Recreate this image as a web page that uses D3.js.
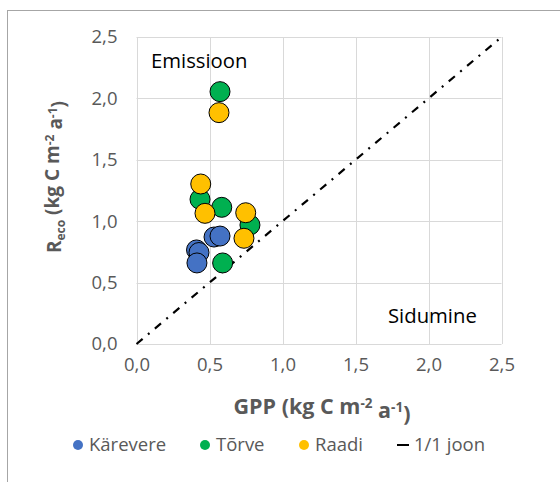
<!DOCTYPE html>
<html>
<head>
<meta charset="utf-8">
<script src="https://cdn.jsdelivr.net/npm/d3@7/dist/d3.min.js"></script>
<style>
  html, body { margin: 0; padding: 0; background: #fff; }
  svg { display: block; font-family: "Open Sans", "Noto Sans", sans-serif; }
</style>
</head>
<body>
<svg id="chart" width="560" height="482"></svg>
<script>
// GPP vs Reco for three sites, kg C m-2 a-1
const seriesNames = ["Kärevere", "Tõrve", "Raadi"];
const kareverGPP  = [0.411, 0.428, 0.414, 0.531, 0.572];
const kareverReco = [0.766, 0.745, 0.660, 0.871, 0.879];
const torveGPP    = [0.572, 0.435, 0.584, 0.777, 0.590];
const torveReco   = [2.055, 1.178, 1.113, 0.969, 0.660];
const raadiGPP    = [0.565, 0.440, 0.469, 0.748, 0.736];
const raadiReco   = [1.884, 1.303, 1.064, 1.069, 0.861];
const seriesColors = ["#4472C4", "#00B050", "#FFC000"];
const tickValues = [0, 0.5, 1.0, 1.5, 2.0, 2.5];
const oneToOne = [[0, 0], [2.5, 2.5]];

const series = [
  { name: seriesNames[0], gpp: kareverGPP, reco: kareverReco, color: seriesColors[0] },
  { name: seriesNames[1], gpp: torveGPP,   reco: torveReco,   color: seriesColors[1] },
  { name: seriesNames[2], gpp: raadiGPP,   reco: raadiReco,   color: seriesColors[2] }
];

const svg = d3.select("#chart");
const fmt = d => d3.format(".1f")(d).replace(".", ",");

// outer chart frame
svg.append("rect")
  .attr("x", 7.5).attr("y", 10.5)
  .attr("width", 700).attr("height", 700)
  .attr("fill", "#fff").attr("stroke", "#A6A6A6").attr("stroke-width", 1);

const x = d3.scaleLinear().domain([0, 2.5]).range([136.5, 501.5]);
const y = d3.scaleLinear().domain([0, 2.5]).range([344, 37]);

// gridlines
const grid = svg.append("g").attr("stroke", "#D9D9D9").attr("stroke-width", 1);
grid.selectAll("line.h").data(tickValues).join("line")
  .attr("x1", x(0)).attr("x2", x(2.5))
  .attr("y1", d => Math.round(y(d)) + 0.5).attr("y2", d => Math.round(y(d)) + 0.5);
grid.selectAll("line.v").data(tickValues).join("line")
  .attr("y1", y(0)).attr("y2", y(2.5))
  .attr("x1", d => Math.round(x(d)) + 0.5).attr("x2", d => Math.round(x(d)) + 0.5);

// axes (labels only, lines drawn by the grid)
const xAxis = svg.append("g")
  .attr("transform", `translate(0,${y(0)})`)
  .call(d3.axisBottom(x).tickValues(tickValues).tickFormat(fmt).tickSize(0).tickPadding(14));
const yAxis = svg.append("g")
  .attr("transform", `translate(${x(0)},0)`)
  .call(d3.axisLeft(y).tickValues(tickValues).tickFormat(fmt).tickSize(0).tickPadding(19));
[xAxis, yAxis].forEach(a => {
  a.select(".domain").remove();
  a.selectAll("text")
    .attr("fill", "#595959")
    .style("font-size", "18.5px")
    .style("font-family", "'Open Sans', sans-serif");
});

// 1:1 line
svg.append("path")
  .datum(oneToOne)
  .attr("d", d3.line().x(d => x(d[0])).y(d => y(d[1])))
  .attr("fill", "none")
  .attr("stroke", "#000")
  .attr("stroke-width", 2.2)
  .attr("stroke-dasharray", "8,7,2,7");

// scatter points
series.forEach(s => {
  svg.append("g").selectAll("circle")
    .data(s.gpp.map((g, i) => [g, s.reco[i]]))
    .join("circle")
    .attr("cx", d => x(d[0]))
    .attr("cy", d => y(d[1]))
    .attr("r", 10)
    .attr("fill", s.color)
    .attr("stroke", "#000")
    .attr("stroke-width", 1);
});

// region labels
svg.append("text").attr("x", 151).attr("y", 68)
  .attr("fill", "#000").style("font-size", "20.3px").text("Emissioon");
svg.append("text").attr("x", 388).attr("y", 323)
  .attr("fill", "#000").style("font-size", "20.3px").text("Sidumine");

// axis titles
const xt = svg.append("text")
  .attr("x", 322).attr("y", 414)
  .attr("text-anchor", "middle")
  .attr("fill", "#595959")
  .style("font-size", "21.5px").style("font-weight", "bold");
xt.append("tspan").text("GPP (kg C m");
xt.append("tspan").attr("dy", "-0.45em").style("font-size", "13.5px").text("-2");
xt.append("tspan").attr("dy", "0.45em").text(" a");
xt.append("tspan").attr("dy", "-0.45em").style("font-size", "13.5px").text("-1");
xt.append("tspan").attr("dy", "0.45em").text(")");

const yt = svg.append("text")
  .attr("transform", "translate(61,177) rotate(-90)")
  .attr("text-anchor", "middle")
  .attr("fill", "#595959")
  .style("font-size", "19px").style("font-weight", "bold");
yt.append("tspan").text("R");
yt.append("tspan").attr("dy", "0.3em").style("font-size", "12px").text("eco");
yt.append("tspan").attr("dy", "-0.3em").text(" (kg C m");
yt.append("tspan").attr("dy", "-0.45em").style("font-size", "12px").text("-2");
yt.append("tspan").attr("dy", "0.45em").text(" a");
yt.append("tspan").attr("dy", "-0.45em").style("font-size", "12px").text("-1");
yt.append("tspan").attr("dy", "0.45em").text(")");

// legend
const legendItems = [
  { label: seriesNames[0], color: seriesColors[0], type: "dot",  x: 78 },
  { label: seriesNames[1], color: seriesColors[1], type: "dot",  x: 205 },
  { label: seriesNames[2], color: seriesColors[2], type: "dot",  x: 304 },
  { label: "1/1 joon",     color: "#000",          type: "line", x: 403 }
];
const lg = svg.append("g");
legendItems.forEach(it => {
  if (it.type === "dot") {
    lg.append("circle").attr("cx", it.x).attr("cy", 445).attr("r", 5).attr("fill", it.color);
  } else {
    lg.append("line").attr("x1", it.x - 6).attr("x2", it.x + 6)
      .attr("y1", 445).attr("y2", 445).attr("stroke", it.color).attr("stroke-width", 2);
  }
  lg.append("text").attr("x", it.x + 11).attr("y", 451)
    .attr("fill", "#595959").style("font-size", "18.5px").text(it.label);
});
</script>
</body>
</html>
